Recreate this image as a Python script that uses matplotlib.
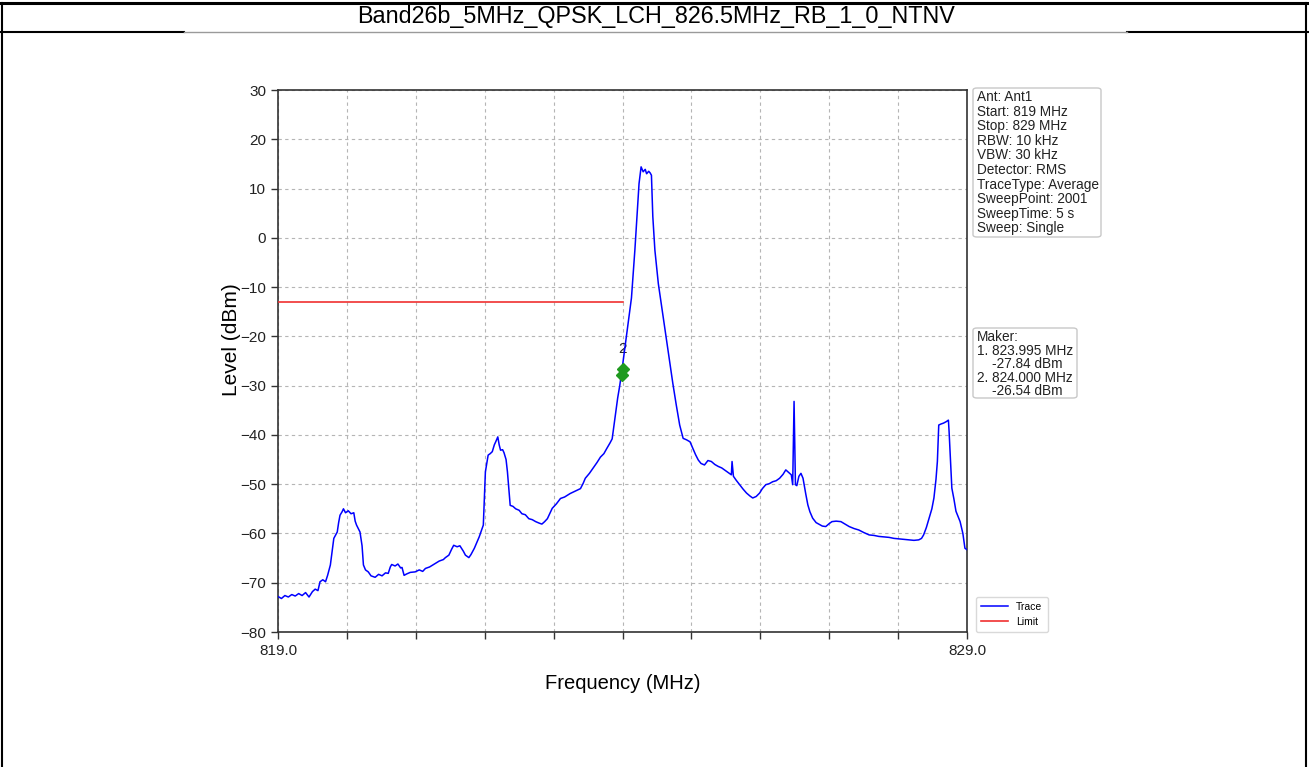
"""Band26b spurious emission trace, recreated with matplotlib."""

import matplotlib
matplotlib.use("Agg")
import matplotlib.pyplot as plt
from matplotlib.lines import Line2D
from matplotlib.patches import FancyBboxPatch

plt.rcParams["font.family"] = ["Liberation Sans", "DejaVu Sans"]

# ── data ─────────────────────────────────────────────────────────────────
title_text = "Band26b_5MHz_QPSK_LCH_826.5MHz_RB_1_0_NTNV"

freq_mhz = [
    819.00, 819.05, 819.10, 819.15, 819.20, 819.25, 819.30, 819.35, 819.40, 819.45,
    819.50, 819.54, 819.58, 819.61, 819.65, 819.69, 819.72, 819.76, 819.81, 819.86,
    819.88, 819.90, 819.93, 819.95, 819.98, 820.02, 820.06, 820.10, 820.12, 820.14,
    820.19, 820.22, 820.24, 820.27, 820.31, 820.35, 820.41, 820.46, 820.51, 820.56,
    820.60, 820.63, 820.65, 820.70, 820.74, 820.78, 820.80, 820.83, 820.87, 820.92,
    820.99, 821.05, 821.10, 821.14, 821.20, 821.28, 821.34, 821.40, 821.43, 821.48,
    821.52, 821.55, 821.60, 821.64, 821.69, 821.72, 821.77, 821.80, 821.85, 821.92,
    821.98, 822.01, 822.05, 822.08, 822.11, 822.14, 822.16, 822.19, 822.21, 822.23,
    822.26, 822.28, 822.31, 822.33, 822.37, 822.41, 822.45, 822.50, 822.54, 822.59,
    822.64, 822.69, 822.74, 822.79, 822.83, 822.87, 822.91, 822.95, 822.98, 823.04,
    823.10, 823.16, 823.24, 823.30, 823.39, 823.43, 823.46, 823.52, 823.58, 823.63,
    823.68, 823.73, 823.77, 823.82, 823.85, 823.89, 823.93, 823.96, 824.00, 824.03,
    824.06, 824.13, 824.18, 824.21, 824.24, 824.27, 824.30, 824.33, 824.35, 824.38,
    824.40, 824.42, 824.44, 824.47, 824.52, 824.59, 824.66, 824.73, 824.78, 824.83,
    824.88, 824.93, 824.98, 825.02, 825.06, 825.10, 825.14, 825.19, 825.24, 825.29,
    825.34, 825.39, 825.44, 825.48, 825.53, 825.58, 825.59, 825.61, 825.65, 825.70,
    825.75, 825.80, 825.85, 825.89, 825.94, 825.99, 826.03, 826.08, 826.13, 826.18,
    826.23, 826.28, 826.33, 826.37, 826.41, 826.45, 826.47, 826.49, 826.51, 826.53,
    826.56, 826.59, 826.62, 826.66, 826.69, 826.72, 826.76, 826.81, 826.86, 826.90,
    826.95, 827.00, 827.04, 827.10, 827.17, 827.23, 827.29, 827.36, 827.43, 827.50,
    827.58, 827.65, 827.72, 827.80, 827.87, 827.94, 828.01, 828.08, 828.16, 828.23,
    828.30, 828.34, 828.37, 828.41, 828.45, 828.49, 828.52, 828.55, 828.57, 828.59,
    828.62, 828.66, 828.70, 828.73, 828.74, 828.76, 828.78, 828.81, 828.84, 828.90,
    828.94, 828.97, 829.00,
]
level_dbm = [
    -72.8, -73.2, -72.6, -72.9, -72.4, -72.7, -72.2, -72.6, -72.0, -72.9,
    -71.8, -71.3, -71.6, -69.8, -69.4, -69.8, -68.5, -66.4, -61.0, -59.7,
    -57.8, -56.3, -55.6, -55.0, -55.8, -55.4, -56.0, -55.8, -57.5, -58.3,
    -59.7, -62.5, -66.4, -67.4, -67.8, -68.6, -68.9, -68.3, -68.6, -68.0,
    -68.1, -66.8, -66.3, -66.6, -66.2, -67.0, -66.9, -68.5, -68.2, -67.9,
    -67.8, -67.4, -67.7, -67.1, -66.8, -66.1, -65.6, -65.3, -64.9, -64.4,
    -63.2, -62.4, -62.7, -62.5, -63.6, -64.4, -64.9, -64.3, -63.0, -60.7,
    -58.3, -47.5, -44.1, -43.8, -43.4, -42.0, -41.4, -40.4, -42.0, -43.1,
    -43.0, -43.6, -45.0, -47.5, -54.3, -54.5, -55.0, -55.3, -56.0, -56.2,
    -57.0, -57.2, -57.6, -57.9, -58.1, -57.6, -57.0, -55.8, -54.9, -54.0,
    -52.9, -52.6, -51.9, -51.5, -50.9, -49.8, -48.8, -47.8, -46.6, -45.6,
    -44.5, -43.8, -42.8, -41.6, -40.8, -36.7, -32.5, -30.0, -26.0, -22.8,
    -19.7, -12.2, -2.4, 4.3, 11.0, 14.4, 13.4, 13.9, 13.0, 13.5,
    13.2, 12.7, 4.3, -2.5, -9.3, -16.0, -22.8, -29.5, -33.9, -38.0,
    -40.7, -41.0, -41.4, -42.7, -44.0, -45.1, -45.8, -46.1, -45.2, -45.4,
    -46.0, -46.4, -46.7, -47.1, -47.6, -48.1, -45.4, -48.4, -49.2, -50.1,
    -51.0, -51.8, -52.4, -52.8, -52.5, -51.8, -50.9, -50.1, -49.9, -49.5,
    -49.3, -48.8, -48.0, -47.1, -47.6, -48.1, -50.1, -33.2, -50.1, -50.3,
    -48.4, -47.8, -48.8, -52.0, -54.2, -55.6, -56.9, -57.8, -58.2, -58.5,
    -58.6, -58.0, -57.6, -57.5, -57.6, -58.1, -58.6, -59.0, -59.3, -59.8,
    -60.3, -60.4, -60.6, -60.7, -60.8, -61.0, -61.1, -61.2, -61.3, -61.4,
    -61.3, -61.0, -60.3, -58.8, -56.9, -55.0, -52.8, -49.0, -45.4, -38.0,
    -37.8, -37.6, -37.3, -37.0, -39.3, -45.0, -50.8, -53.0, -55.5, -57.6,
    -60.0, -63.0, -63.3,
]

limit_freq = [819.0, 824.0]
limit_level = [-13.0, -13.0]

marker_freq = [823.995, 824.000]
marker_level = [-27.84, -26.54]
# only the label of the upper marker can be seen in the picture
marker_label = "2"

info_lines = [
    "Ant: Ant1",
    "Start: 819 MHz",
    "Stop: 829 MHz",
    "RBW: 10 kHz",
    "VBW: 30 kHz",
    "Detector: RMS",
    "TraceType: Average",
    "SweepPoint: 2001",
    "SweepTime: 5 s",
    "Sweep: Single",
]
maker_lines = [
    "Maker:",
    "1. 823.995 MHz",
    "    -27.84 dBm",
    "2. 824.000 MHz",
    "    -26.54 dBm",
]

x_ticks = list(range(819, 830))
y_ticks = list(range(-80, 31, 10))

# ── figure ───────────────────────────────────────────────────────────────
W, H = 1309, 767
fig = plt.figure(figsize=(W / 100, H / 100), dpi=100)


def fx(px):
    return px / W


def fy(py):
    return 1 - py / H


# document frame around the chart
fig.add_artist(Line2D([0, 1], [fy(3), fy(3)], color="black", lw=2.2))
fig.add_artist(Line2D([fx(2), fx(2)], [fy(3), 0], color="black", lw=1.5))
fig.add_artist(Line2D([fx(1306), fx(1306)], [fy(3), 0], color="black", lw=1.5))
fig.add_artist(Line2D([0, fx(184)], [fy(32), fy(32)], color="black", lw=1.5))
fig.add_artist(Line2D([fx(1127), 1], [fy(32), fy(32)], color="black", lw=1.5))
fig.add_artist(Line2D([fx(184), fx(1127)], [fy(32), fy(32)], color="#9a9a9a", lw=1.0))
fig.text(fx(656), fy(17), title_text, ha="center", va="center", fontsize=16.8)

ax = fig.add_axes([fx(278), fy(632), fx(967 - 278), (632 - 90) / H])

# ── curves ───────────────────────────────────────────────────────────────
ax.plot(freq_mhz, level_dbm, color="#0000ff", lw=1.1, label="Trace", zorder=3)
ax.plot(limit_freq, limit_level, color="#f03030", lw=1.2, label="Limit", zorder=3)

ax.annotate(marker_label, xy=(marker_freq[1], marker_level[1]), xytext=(0, 9),
            textcoords="offset points", ha="center", va="bottom",
            fontsize=11, color="#222222", zorder=2)
ax.plot(marker_freq, marker_level, "D", color="#1f9a1f", ms=6, zorder=4)

# ── axes ─────────────────────────────────────────────────────────────────
ax.set_xlim(819, 829)
ax.set_ylim(-80, 30)
ax.set_xticks(x_ticks)
ax.set_xticklabels(["819.0"] + [""] * 9 + ["829.0"])
ax.set_yticks(y_ticks)
ax.tick_params(labelsize=11, length=5, width=1, color="#333333", labelcolor="#222222")
ax.grid(True, color="#b5b5b5", linestyle=(0, (3, 3)), lw=0.8)
for sp in ax.spines.values():
    sp.set_color("#333333")
    sp.set_linewidth(1.2)
ax.set_xlabel("Frequency (MHz)", fontsize=14.5, labelpad=12)
ax.set_ylabel("Level (dBm)", fontsize=15)
ax.yaxis.set_label_coords(-0.054, 0.54)


# ── side panels ──────────────────────────────────────────────────────────
def text_panel(lines, left, top, right, bottom, first, step):
    fig.add_artist(FancyBboxPatch(
        (fx(left), fy(bottom)), fx(right - left), (bottom - top) / H,
        boxstyle="round,pad=0,rounding_size=0.003", transform=fig.transFigure,
        facecolor="white", edgecolor="#c8c8c8", lw=1))
    for i, line in enumerate(lines):
        fig.text(fx(left + 4), fy(first + i * step), line, ha="left",
                 va="center", fontsize=9.8, color="#222222")


text_panel(info_lines, 973, 88, 1101, 237, 97, 14.6)
text_panel(maker_lines, 973, 328, 1077, 398, 337, 13.6)

leg = ax.legend(loc="lower left", bbox_to_anchor=(1.005, -0.01), fontsize=7.5,
                frameon=True, fancybox=True, handlelength=2.6, borderpad=0.5)
leg.get_frame().set_edgecolor("#d0d0d0")

fig.savefig("out.png", dpi=100)
